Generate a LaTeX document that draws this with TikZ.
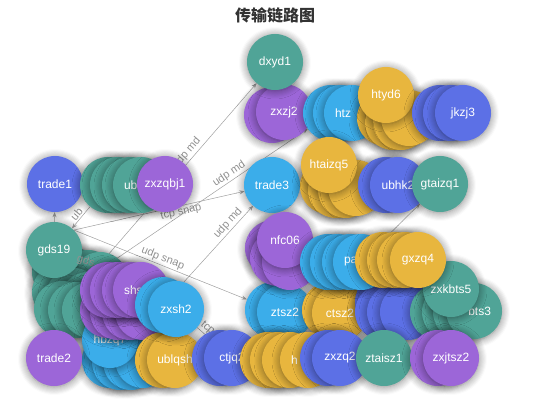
\documentclass[tikz,border=0pt]{standalone}
\usepackage{fontspec}
\setmainfont{Liberation Sans}
\newfontfamily\cjk{Noto Sans CJK SC}
\usetikzlibrary{arrows.meta,shadows.blur}

\definecolor{cteal}{RGB}{80,164,151}
\definecolor{cblue}{RGB}{92,112,230}
\definecolor{cpurple}{RGB}{156,102,216}
\definecolor{csky}{RGB}{59,173,234}
\definecolor{cyellow}{RGB}{232,182,62}
\definecolor{linkgray}{RGB}{160,160,160}
\definecolor{lblgray}{RGB}{145,145,145}
\definecolor{titlegray}{RGB}{51,51,51}

\pgfdeclarelayer{links}
\pgfsetlayers{links,main}

\tikzset{
  ball/.style={circle, minimum size=56pt, inner sep=0pt, text=white,
    font=\fontsize{12}{14}\selectfont,
    blur shadow={shadow blur steps=8, shadow xshift=0pt, shadow yshift=-1pt,
      shadow blur radius=8pt, shadow opacity=50}},
  tealball/.style={ball, fill=cteal},
  blueball/.style={ball, fill=cblue},
  purpleball/.style={ball, fill=cpurple},
  skyball/.style={ball, fill=csky},
  yellowball/.style={ball, fill=cyellow},
  cutl/.style={text width=34pt, align=left},
  cutr/.style={text width=34pt, align=right},
  link/.style={draw=linkgray, line width=0.5pt, -{Stealth[length=5pt,width=4pt]}},
  elabel/.style={font=\fontsize{11}{12}\selectfont, text=lblgray, sloped, above, inner sep=1.5pt},
}

\begin{document}
\begin{tikzpicture}[x=1pt, y=-1pt]

	\useasboundingbox (0, 0) rectangle (550, 420);
	\node[font=\cjk\bfseries\fontsize{16}{18}\selectfont, text=titlegray] (title) at (275, 15) {传输链路图};

	\node[purpleball]      (zxzja)   at (272, 115)  {};
	\node[purpleball]      (zxzj2)   at (284, 112)  {zxzj2};
	\node[tealball]        (dxyd1)   at (275, 62)   {dxyd1};
	\node[skyball]         (htza)    at (331, 113)  {};
	\node[skyball]         (htzb)    at (341, 113)  {};
	\node[skyball,cutl]    (htz)     at (352, 113)  {htz};
	\node[yellowball]      (hyda)    at (385, 118)  {};
	\node[yellowball]      (hydb)    at (393, 122)  {};
	\node[yellowball]      (hydc)    at (401, 122)  {};
	\node[yellowball]      (hydd)    at (409, 118)  {};
	\node[yellowball]      (htyd6)   at (386, 95)   {htyd6};
	\node[blueball]        (jkza)    at (440, 113)  {};
	\node[blueball]        (jkzb)    at (451, 113)  {};
	\node[blueball]        (jkzj3)   at (463, 113)  {jkzj3};

	\node[blueball]        (trade1)  at (55, 184)   {trade1};
	\node[tealball]        (uba)     at (108, 185)  {};
	\node[tealball]        (ubb)     at (118, 185)  {};
	\node[tealball]        (ubc)     at (130, 185)  {};
	\node[tealball,cutl]   (ub)      at (141, 185)  {ub};
	\node[purpleball]      (zxzqbj1) at (165, 184)  {zxzqbj1};
	\node[skyball]         (trade3)  at (272, 185)  {trade3};
	\node[yellowball]      (hta)     at (328, 186)  {};
	\node[yellowball]      (htb)     at (336, 190)  {};
	\node[yellowball]      (htc)     at (346, 190)  {};
	\node[yellowball]      (htd)     at (356, 188)  {};
	\node[yellowball]      (htaizq5) at (329, 165)  {htaizq5};
	\node[blueball]        (ubhka)   at (386, 185)  {};
	\node[blueball]        (ubhk2)   at (398, 185)  {ubhk2};
	\node[tealball]        (gtaizq1) at (440, 184)  {gtaizq1};

	\node[tealball]        (gdsa)    at (60, 272)   {};
	\node[tealball]        (gdsb)    at (74, 276)   {};
	\node[tealball]        (gdsc)    at (88, 278)   {};
	\node[tealball]        (gdsd)    at (100, 280)  {};
	\node[tealball]        (gdse)    at (60, 292)   {};
	\node[tealball]        (gdsf)    at (74, 296)   {};
	\node[tealball]        (gdsg)    at (88, 300)   {};
	\node[tealball]        (gdsh)    at (62, 309)   {};
	\node[tealball]        (gdsi)    at (76, 310)   {};
	\node[tealball]        (gdsj)    at (90, 310)   {};
	\node[tealball]        (gds19)   at (54, 250)   {gds19};
	\node[elabel, rotate=-15] (gdslbl) at (84, 268) {gds};

	\node[skyball]         (hba)     at (110, 360)  {};
	\node[skyball]         (hbb)     at (120, 362)  {};
	\node[skyball]         (hbc)     at (131, 362)  {};
	\node[skyball]         (hbd)     at (143, 360)  {};
	\node[skyball]         (hbzq7)   at (110, 340)  {hbzq7};
	\node[purpleball]      (shsd)    at (108, 310)  {};
	\node[purpleball]      (shse)    at (118, 312)  {};
	\node[purpleball]      (shsf)    at (130, 312)  {};
	\node[purpleball]      (shsg)    at (143, 312)  {};
	\node[purpleball]      (shsa)    at (108, 290)  {};
	\node[purpleball]      (shsb)    at (118, 290)  {};
	\node[purpleball]      (shsc)    at (130, 290)  {};
	\node[purpleball,cutl] (shs)     at (141, 290)  {shs};
	\node[yellowball]      (ubla)    at (163, 360)  {};
	\node[yellowball]      (ublqsh)  at (175, 360)  {ublqsh};
	\node[skyball]         (zxsha)   at (163, 305)  {};
	\node[skyball]         (zxsh2)   at (176, 309)  {zxsh2};

	\node[skyball]         (ztsa)    at (273, 310)  {};
	\node[skyball]         (ztsz2)   at (285, 312)  {ztsz2};
	\node[yellowball]      (ctsa)    at (330, 310)  {};
	\node[yellowball]      (ctsz2)   at (340, 313)  {ctsz2};
	\node[blueball]        (bla)     at (383, 302)  {};
	\node[blueball]        (blb)     at (393, 305)  {};
	\node[blueball]        (blc)     at (403, 305)  {};
	\node[blueball]        (bld)     at (383, 312)  {};
	\node[blueball]        (ble)     at (395, 312)  {};
	\node[blueball]        (blf)     at (408, 312)  {};
	\node[tealball]        (btsa)    at (438, 312)  {};
	\node[tealball]        (btsb)    at (450, 312)  {};
	\node[tealball]        (btsc)    at (461, 312)  {};
	\node[tealball,cutr]   (bts3)    at (474, 311)  {bts3};
	\node[tealball]        (zxkbts5) at (451, 289)  {zxkbts5};

	\node[purpleball]      (nfca)    at (273, 248)  {};
	\node[purpleball]      (nfcb)    at (278, 258)  {};
	\node[purpleball]      (nfcc)    at (290, 262)  {};
	\node[purpleball]      (nfc06)   at (285, 240)  {nfc06};
	\node[skyball]         (paa)     at (328, 262)  {};
	\node[skyball]         (pab)     at (338, 262)  {};
	\node[skyball]         (pac)     at (350, 262)  {};
	\node[skyball,cutl]    (pa)      at (361, 262)  {pa};
	\node[yellowball]      (gxa)     at (383, 260)  {};
	\node[yellowball]      (gxb)     at (395, 260)  {};
	\node[yellowball]      (gxc)     at (405, 260)  {};
	\node[yellowball]      (gxzq4)   at (418, 260)  {gxzq4};

	\node[purpleball]      (trade2)  at (54, 358)   {trade2};
	\node[blueball]        (ctja)    at (220, 358)  {};
	\node[blueball]        (ctjq2)   at (232, 358)  {ctjq2};
	\node[yellowball]      (hya)     at (268, 360)  {};
	\node[yellowball]      (hyb)     at (278, 360)  {};
	\node[yellowball]      (hyc)     at (290, 360)  {};
	\node[yellowball,cutl] (hy)      at (308, 360)  {h};
	\node[blueball]        (zxqa)    at (328, 358)  {};
	\node[blueball]        (zxzq2)   at (340, 358)  {zxzq2};
	\node[tealball]        (ztaisz1) at (384, 358)  {ztaisz1};
	\node[purpleball]      (zxja)    at (438, 358)  {};
	\node[purpleball]      (zxjtsz2) at (451, 358)  {zxjtsz2};

	\begin{pgfonlayer}{links}
	\path (gdsc)             edge[link] node[elabel, pos=0.57]        {udp md}   (dxyd1);
	\path (gdsc)             edge[link] node[elabel, pos=0.62]        {udp md}   (htza);
	\path (gds19.north east) edge[link] node[elabel, below, pos=0.62] {tcp snap} (trade3);
	\path (zxsha)            edge[link] node[elabel, pos=0.72]        {udp md}   (trade3);
	\path (gds19.north east) edge[link] node[elabel, pos=0.5]         {udp snap} (ztsa);
	\path (gds19)            edge[link]                                          (trade1);
	\path (uba)              edge[link] node[elabel, pos=0.5]         {ub}       (gds19);
	\path (pa)               edge[link]                                          (gtaizq1);
	\path (zxsh2)            edge[link] node[elabel, pos=0.45]        {tcp}      (ctjq2);
	\end{pgfonlayer}

\end{tikzpicture}
\end{document}
